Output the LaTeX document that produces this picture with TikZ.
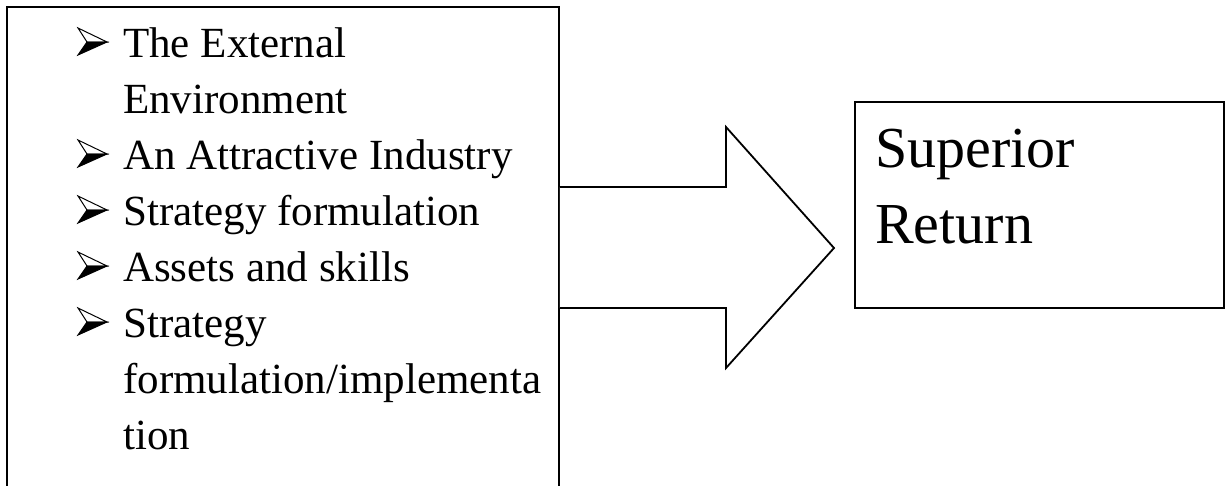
\documentclass[tikz,border=0pt]{standalone}
\usepackage{fontspec}
\setmainfont{Liberation Serif}
\usetikzlibrary{positioning}
\newlength{\lw}
\setlength{\lw}{552pt}
\newlength{\rw}
\setlength{\rw}{369pt}
\newlength{\rh}
\setlength{\rh}{206pt}
\newlength{\ls}
\setlength{\ls}{56pt}
\tikzset{frame/.style={draw=black, line width=1.8pt, inner sep=0pt}}
\tikzset{listtext/.style={inner sep=0pt, anchor=north west, font=\fontsize{43}{56}\selectfont}}
\tikzset{bigtext/.style={inner sep=0pt, anchor=base west, font=\fontsize{58}{76}\selectfont}}
\tikzset{blockarrow/.style={draw=black, line width=1.8pt, line join=miter, fill=white}}
\tikzset{pics/arrowbullet/.style={code={
	\filldraw[line width=1pt, line join=miter] (0,0) -- (20,0) -- (-9,13) -- cycle;
	\draw[line width=1pt, line join=miter] (-9,-14) -- (20,0) -- (0,0) -- cycle;
}}}

\begin{document}
\begin{tikzpicture}[x=1pt, y=-1pt]
	\useasboundingbox (0,0) rectangle (1225,485);
	\clip (0,0) rectangle (1225,485);
	
	%%% NODES %%%
	
	% FACTORS BOX
	\node[frame, anchor=north west, minimum width=\lw, minimum height=520pt] at (6,6) (factors) {};
	\node[listtext] at (123,17.8) (factorlist) {%
		\begin{tabular}{@{}l@{}}
			The External\\
			Environment\\
			An Attractive Industry\\
			Strategy formulation\\
			Assets and skills\\
			Strategy\\
			formulation/implementa\\
			tion
		\end{tabular}};
	% bullets, one per item (rows 0,2,3,4,5)
	\foreach \row in {0,2,3,4,5}
		\pic at (87, 42+56*\row) {arrowbullet};
	
	% RESULT BOX
	\node[frame, anchor=north west, minimum width=\rw, minimum height=\rh] at (854,101) (result) {};
	\node[bigtext] at (875,167) (superior) {Superior};
	\node[bigtext] at (875,243) (return) {Return};
	
	%%% ARROW %%%
	
	\coordinate (tip) at (834,248);
	\draw[blockarrow] (factors.east |- 0,187) -- (726,187) -- (726,127) -- (tip)
		-- (726,368) -- (726,308) -- (factors.east |- 0,308);
	
\end{tikzpicture}
\end{document}
